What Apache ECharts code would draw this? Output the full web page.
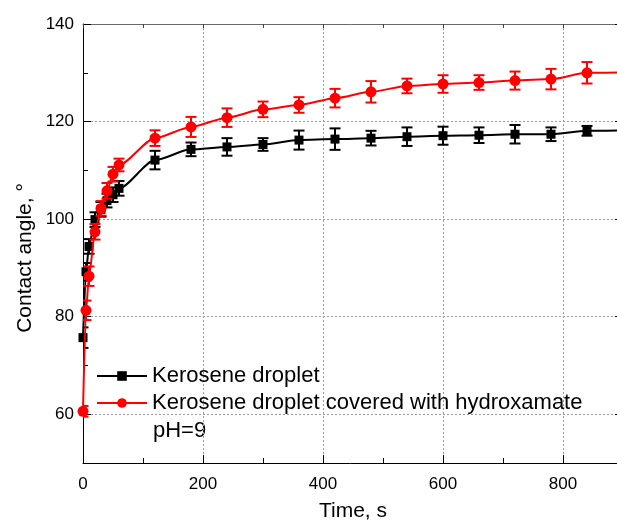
<!DOCTYPE html>
<html>
<head>
<meta charset="utf-8">
<script src="https://cdn.jsdelivr.net/npm/echarts@6/dist/echarts.min.js"></script>
<style>
html,body{margin:0;padding:0;background:#fff;}
#chart{width:617px;height:523px;}
</style>
</head>
<body>
<div id="chart"></div>
<script>
// ---- data ----
var times = [0, 5, 10, 20, 30, 40, 50, 60, 120, 180, 240, 300, 360, 420, 480, 540, 600, 660, 720, 780, 840];
var blackAngle = [75.7, 89.2, 94.4, 99.9, 102.0, 103.8, 105.0, 106.3, 112.1, 114.3, 114.8, 115.3, 116.2, 116.4, 116.6, 116.9, 117.1, 117.2, 117.4, 117.4, 118.1];
var blackErr = [2.1, 1.8, 1.5, 1.5, 1.5, 1.4, 1.5, 1.5, 1.9, 1.4, 1.8, 1.3, 1.95, 2.2, 1.5, 1.9, 1.85, 1.6, 1.9, 1.4, 1.0];
var redAngle = [60.6, 81.3, 88.3, 97.4, 102.2, 105.8, 109.2, 111.1, 116.6, 118.9, 120.8, 122.5, 123.4, 124.8, 126.1, 127.3, 127.7, 128.0, 128.4, 128.7, 130.0];
var redErr = [1.1, 2.0, 2.0, 1.6, 1.5, 1.6, 1.5, 1.3, 1.6, 2.05, 1.9, 1.6, 1.6, 1.9, 2.2, 1.5, 1.8, 1.5, 1.85, 2.1, 2.2];
// end of the fitted curves at the right edge (t = 900 s)
var curveEndTime = 900;
var blackCurveEnd = 118.2;
var redCurveEnd = 130.1;

var seriesNames = ['Kerosene droplet', 'Kerosene droplet covered with hydroxamate'];
var xTickLabels = ['0', '200', '400', '600', '800'];
var yTickLabels = ['60', '80', '100', '120', '140'];

var FONT = '"Liberation Sans", Arial, sans-serif';

function lineData(t, v, endT, endV) {
  var d = t.map(function (x, i) { return [x, v[i]]; });
  d.push({ value: [endT, endV], symbol: 'none' });
  return d;
}
function errData(t, v, e) {
  return t.map(function (x, i) { return [x, v[i], e[i]]; });
}
function errRender(color) {
  return function (params, api) {
    var x = api.value(0), y = api.value(1), e = api.value(2);
    var top = api.coord([x, y + e]);
    var bot = api.coord([x, y - e]);
    var hw = 5.5;
    var st = { stroke: color, lineWidth: 2 };
    return {
      type: 'group',
      children: [
        { type: 'line', shape: { x1: top[0], y1: top[1], x2: bot[0], y2: bot[1] }, style: st },
        { type: 'line', shape: { x1: top[0] - hw, y1: top[1], x2: top[0] + hw, y2: top[1] }, style: st },
        { type: 'line', shape: { x1: bot[0] - hw, y1: bot[1], x2: bot[0] + hw, y2: bot[1] }, style: st }
      ]
    };
  };
}

var chart = echarts.init(document.getElementById('chart'), null, { renderer: 'canvas' });

var gridLine = { show: true, lineStyle: { color: '#9a9a9a', type: [2, 2], width: 1 } };

var option = {
  animation: false,
  backgroundColor: '#fff',
  grid: [
    { left: 83, top: 24, right: -6, bottom: 60, containLabel: false, outerBoundsMode: 'none' },
    { left: 83, top: 24, width: 480, bottom: 60, containLabel: false, outerBoundsMode: 'none' },
    { left: 83, top: 24, right: -6, height: 390, containLabel: false, outerBoundsMode: 'none' }
  ],
  xAxis: [
    { // 0: main bottom axis (grid A)
      gridIndex: 0, type: 'value', min: 0, max: 900, interval: 100, position: 'bottom',
      axisLine: { show: true, onZero: false, lineStyle: { color: '#000', width: 1 } },
      axisTick: { show: true, inside: true, length: 5, lineStyle: { color: '#000', width: 1 } },
      axisLabel: { show: false }, splitLine: { show: false },
      name: 'Time, s', nameLocation: 'middle', nameGap: 38,
      nameTextStyle: { fontFamily: FONT, fontSize: 21, color: '#000' }
    },
    { // 1: top frame axis (grid A)
      gridIndex: 0, type: 'value', min: 0, max: 900, interval: 100, position: 'top',
      axisLine: { show: true, onZero: false, lineStyle: { color: '#6a6a6a', width: 1 } },
      axisTick: { show: true, inside: true, length: 4, lineStyle: { color: '#444', width: 1 } },
      axisLabel: { show: false }, splitLine: { show: false }
    },
    { // 2: major ticks / labels / grid lines (grid B)
      gridIndex: 1, type: 'value', min: 0, max: 800, interval: 200, position: 'bottom',
      axisLine: { show: false, onZero: false },
      axisTick: { show: true, inside: true, length: 8, lineStyle: { color: '#000', width: 1 } },
      axisLabel: {
        show: true, margin: 13, fontFamily: FONT, fontSize: 17, color: '#000',
        formatter: function (v) { return xTickLabels[Math.round(v / 200)]; }
      },
      splitLine: gridLine
    },
    { gridIndex: 2, type: 'value', min: 0, max: 900, show: false }
  ],
  yAxis: [
    { // 0: main left axis (grid A)
      gridIndex: 0, type: 'value', min: 50, max: 140, interval: 10, position: 'left',
      axisLine: { show: true, onZero: false, lineStyle: { color: '#000', width: 1 } },
      axisTick: { show: true, inside: true, length: 5, lineStyle: { color: '#000', width: 1 } },
      axisLabel: { show: false }, splitLine: { show: false }
    },
    { gridIndex: 1, type: 'value', min: 50, max: 140, show: false },
    { // 2: major ticks / labels / grid lines (grid C)
      gridIndex: 2, type: 'value', min: 60, max: 140, interval: 20, position: 'left',
      axisLine: { show: false, onZero: false },
      axisTick: { show: true, inside: true, length: 8, lineStyle: { color: '#000', width: 1 } },
      axisLabel: {
        show: true, margin: 9, fontFamily: FONT, fontSize: 17, color: '#000',
        formatter: function (v) { return yTickLabels[Math.round((v - 60) / 20)]; }
      },
      splitLine: gridLine
    },
    { // 3: right frame ticks (grid C)
      gridIndex: 2, type: 'value', min: 60, max: 140, interval: 20, position: 'right',
      axisLine: { show: true, onZero: false, lineStyle: { color: '#000', width: 1 } },
      axisTick: { show: true, inside: true, length: 8, lineStyle: { color: '#000', width: 1 } },
      axisLabel: { show: false }, splitLine: { show: false }
    }
  ],
  legend: {
    show: true, orient: 'vertical', left: 96, top: 365, padding: 0,
    itemWidth: 50, itemHeight: 12, itemGap: 5,
    data: seriesNames,
    textStyle: { fontFamily: FONT, fontSize: 22, color: '#000', lineHeight: 22 },
    inactiveColor: '#ccc'
  },
  graphic: [
    {
      type: 'text', left: 153, top: 420, silent: true,
      style: { text: 'pH=9', font: '22px ' + FONT, fill: '#000' }
    },
    {
      type: 'text', x: 25, y: 258, rotation: Math.PI / 2, silent: true,
      style: { text: 'Contact angle, °', font: '21px ' + FONT, fill: '#000', align: 'center', verticalAlign: 'middle' }
    }
  ],
  series: [
    {
      type: 'custom', name: 'blackErr', xAxisIndex: 0, yAxisIndex: 0, z: 2,
      renderItem: errRender('#000'), data: errData(times, blackAngle, blackErr),
      encode: { x: 0, y: 1 }, clip: true, silent: true
    },
    {
      type: 'line', name: seriesNames[0], xAxisIndex: 0, yAxisIndex: 0, z: 3,
      data: lineData(times, blackAngle, curveEndTime, blackCurveEnd),
      smooth: 0.25, smoothMonotone: 'x',
      symbol: 'rect', symbolSize: 9, showSymbol: true,
      lineStyle: { color: '#000', width: 2 }, itemStyle: { color: '#000' },
      clip: true, silent: true
    },
    {
      type: 'custom', name: 'redErr', xAxisIndex: 0, yAxisIndex: 0, z: 4,
      renderItem: errRender('#ff0000'), data: errData(times, redAngle, redErr),
      encode: { x: 0, y: 1 }, clip: true, silent: true
    },
    {
      type: 'line', name: seriesNames[1], xAxisIndex: 0, yAxisIndex: 0, z: 5,
      data: lineData(times, redAngle, curveEndTime, redCurveEnd),
      smooth: 0.25, smoothMonotone: 'x',
      symbol: 'circle', symbolSize: 11, showSymbol: true,
      lineStyle: { color: '#ff0000', width: 2 }, itemStyle: { color: '#ff0000' },
      clip: true, silent: true
    }
  ]
};
chart.setOption(option);
</script>
</body>
</html>
